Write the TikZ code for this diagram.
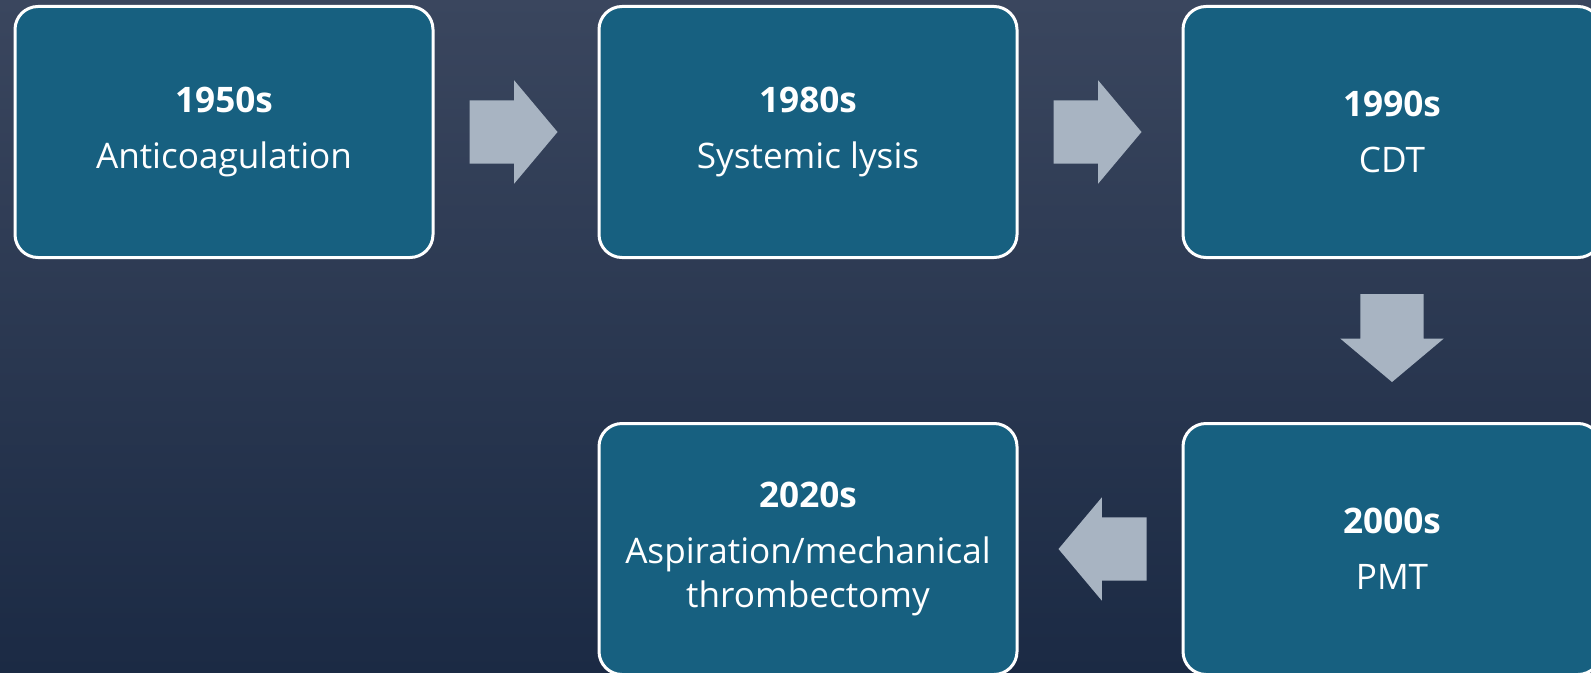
\documentclass[tikz,border=0pt]{standalone}
\usepackage{fontspec}
\setmainfont{Open Sans}
\usepackage{xcolor}
\usepackage{tikz}
\usetikzlibrary{positioning,shapes.arrows,calc}

\definecolor{bgtop}{RGB}{58,70,94}
\definecolor{bgbot}{RGB}{27,42,68}
\definecolor{erablue}{RGB}{23,96,128}
\definecolor{flowgray}{RGB}{168,180,194}

\tikzset{
  era/.style={draw=white, line width=0.03cm, fill=erablue, rounded corners=0.23cm,
    minimum width=4.18cm, minimum height=2.51cm, align=center, text=white,
    font=\fontsize{10}{12.7}\selectfont},
  flow/.style={single arrow, fill=flowgray, draw=none, inner xsep=0pt, inner ysep=0.31cm,
    outer sep=0pt, minimum height=0.88cm, minimum width=1.02cm,
    single arrow head extend=0.2cm, single arrow tip angle=100, anchor=tail}
}

\begin{document}
\begin{tikzpicture}
        \useasboundingbox (0,0) rectangle (15.91,6.72);
        \shade[top color=bgtop, bottom color=bgbot] (0,0) rectangle (15.91,6.72);

        \node (y1950) [era] at (2.24,5.40) {\textbf{1950s}\\[3.2pt]Anticoagulation};
        \node (y1980) [era, right=1.63cm of y1950] {\textbf{1980s}\\[3.2pt]Systemic lysis};
        \node (y1990) [era, right=1.63cm of y1980] {\textbf{1990s}\\[3.2pt]CDT};
        \node (y2000) [era, below=1.63cm of y1990] {\textbf{2000s}\\[3.2pt]PMT};
        \node (y2020) [era, left=1.63cm of y2000] {\textbf{2020s}\\[3.2pt]Aspiration/mechanical\\thrombectomy};

%%      block arrows between the eras
        \node (a1) [flow] at ($(y1950.east)+(0.35,0)$) {};
        \node (a2) [flow] at ($(y1980.east)+(0.35,0)$) {};
        \node (a3) [flow, rotate=-90] at ($(y1990.south)+(0,-0.35)$) {};
        \node (a4) [flow, rotate=180] at ($(y2000.west)+(-0.35,0)$) {};
      \end{tikzpicture}
\end{document}
